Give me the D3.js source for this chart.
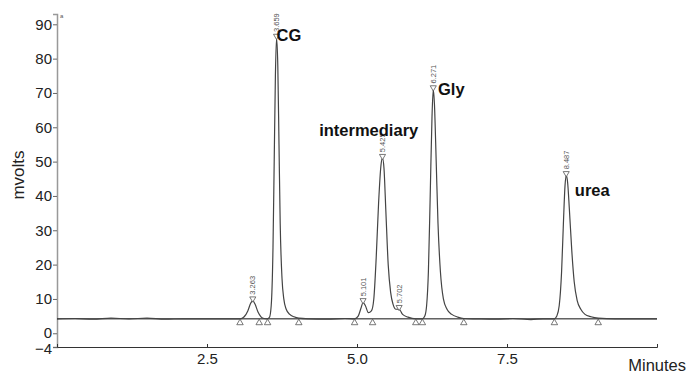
<!DOCTYPE html>
<html>
<head>
<meta charset="utf-8">
<script src="https://cdn.jsdelivr.net/npm/d3@7"></script>
<style>
  body { margin: 0; background: #fff; }
  svg { font-family: "Liberation Sans", Arial, sans-serif; }
</style>
</head>
<body>
<script>
'use-strict';

// chromatogram trace (minutes, mvolts)
let traceTime = [0, 0.3, 0.6, 0.9, 1.2, 1.5, 1.8, 2.1, 2.5, 2.9, 3.05, 3.12, 3.18, 3.23, 3.263, 3.3, 3.35, 3.4, 3.45,
  3.5, 3.54, 3.57, 3.6, 3.62, 3.64, 3.659, 3.68, 3.7, 3.72, 3.75, 3.78, 3.82, 3.88, 3.95, 4.03, 4.2, 4.5, 4.8,
  4.96, 5.02, 5.07, 5.101, 5.14, 5.19, 5.24, 5.28, 5.32, 5.36, 5.4, 5.425, 5.45, 5.48, 5.52, 5.56, 5.6, 5.65, 5.702, 5.76, 5.85, 5.98,
  6.09, 6.13, 6.16, 6.19, 6.22, 6.25, 6.271, 6.29, 6.32, 6.35, 6.39, 6.44, 6.5, 6.58, 6.68, 6.78,
  7.0, 7.3, 7.6, 7.9, 8.1, 8.29, 8.33, 8.37, 8.41, 8.44, 8.467, 8.487, 8.51, 8.54, 8.58, 8.62, 8.67, 8.73, 8.8, 8.9, 9.02, 9.3, 9.6, 10];
let traceMv = [4.2, 4.3, 4.1, 4.4, 4.2, 4.4, 4.1, 4.2, 4.2, 4.2, 4.2, 4.8, 6.5, 8.8, 9.5, 8.5, 6.2, 4.8, 4.3,
  4.2, 4.6, 8, 25, 50, 75, 86, 78, 55, 32, 16, 10, 7, 5.5, 4.8, 4.4, 4.2, 4.1, 4.3,
  4.2, 5.0, 7.5, 9, 8, 6, 6.5, 10, 22, 38, 49, 51, 48, 36, 20, 12, 8.5, 7, 7, 5.5, 4.7, 4.2,
  4.2, 5, 8, 18, 40, 63, 71, 67, 50, 32, 18, 10, 7, 5.5, 4.7, 4.3,
  4.2, 4.1, 4.3, 4.0, 4.2, 4.2, 5, 8, 18, 32, 43, 46, 44, 36, 24, 15, 9.5, 7, 5.5, 4.8, 4.4, 4.2, 4.2, 4.2];

// labelled peaks
let peakTimes = [3.263, 3.659, 5.101, 5.425, 5.702, 6.271, 8.487];
let peakLabels = ["3.263", "3.659", "5.101", "5.425", "5.702", "6.271", "8.487"];
let peakHeights = [9.5, 86, 9, 51, 7, 71, 46];

// integration marks on the baseline
let baseMarks = [3.05, 3.37, 3.51, 4.03, 4.96, 5.26, 5.98, 6.09, 6.78, 8.29, 9.02];
let baselineMv = 4.2;

// compound names
let compoundNames = ["CG", "intermediary", "Gly", "urea"];
let compoundTimes = [3.66, 4.37, 6.35, 8.63];
let compoundMv = [85, 57.5, 69.5, 40];

let yTicks = [-4, 0, 10, 20, 30, 40, 50, 60, 70, 80, 90];
let xTicks = [2.5, 5.0, 7.5];

let width = 686, height = 373;
let margin = { top: 14, left: 57, bottom: 26, right: 29 };

let svg = d3.select("body").append("svg")
  .attr("width", width)
  .attr("height", height);

let xScale = d3.scaleLinear().domain([0, 10]).range([margin.left, width - margin.right]);
let yScale = d3.scaleLinear().domain([-4, 93]).range([height - margin.bottom, margin.top]);

// y axis
let yAxis = d3.axisLeft(yScale).tickValues(yTicks).tickSize(4).tickFormat(d3.format("d"));
let gy = svg.append("g")
  .attr("transform", "translate(" + margin.left + ",0)")
  .call(yAxis);
gy.select(".domain").attr("stroke", "#999").attr("stroke-width", 1.5);
gy.selectAll(".tick line").attr("stroke", "#666");
gy.selectAll(".tick text")
  .attr("font-size", 15)
  .attr("fill", "#222")
  .attr("x", -5)
  .attr("dy", (d) => d == -4 ? "0.45em" : (d == 0 ? "0.25em" : "0.32em"));

// x axis
let xAxis = d3.axisBottom(xScale).tickValues(xTicks).tickSize(-3).tickFormat(d3.format(".1f"));
let gx = svg.append("g")
  .attr("transform", "translate(0," + yScale(-4) + ")")
  .call(xAxis);
gx.select(".domain").attr("stroke", "#333");
gx.selectAll(".tick line").attr("stroke", "#333");
gx.selectAll(".tick text").attr("font-size", 15).attr("fill", "#222").attr("y", 6);

// small marker at the top of the y axis
svg.append("text")
  .attr("x", margin.left + 3)
  .attr("y", margin.top + 4)
  .attr("font-size", 6)
  .attr("fill", "#555")
  .text("a");

// axis labels
svg.append("text")
  .attr("transform", "translate(24," + 175 + ") rotate(-90)")
  .attr("text-anchor", "middle")
  .attr("font-size", 17)
  .attr("fill", "#222")
  .text("mvolts");

svg.append("text")
  .attr("x", 686)
  .attr("y", 371)
  .attr("text-anchor", "end")
  .attr("font-size", 16.5)
  .attr("fill", "#222")
  .text("Minutes");

// integration baseline
svg.append("line")
  .attr("x1", xScale(0)).attr("x2", xScale(10))
  .attr("y1", yScale(baselineMv)).attr("y2", yScale(baselineMv))
  .attr("stroke", "#111")
  .attr("stroke-width", 1);

// trace
let line = d3.line()
  .x((d, i) => xScale(traceTime[i]))
  .y((d, i) => yScale(traceMv[i]))
  .curve(d3.curveMonotoneX);

svg.append("path")
  .datum(traceMv)
  .attr("d", line)
  .attr("fill", "none")
  .attr("stroke", "#444")
  .attr("stroke-width", 1.2);

// triangle marks below the baseline
svg.selectAll(".base-mark")
  .data(baseMarks)
  .enter()
  .append("path")
  .attr("class", "base-mark")
  .attr("d", d3.symbol().type(d3.symbolTriangle).size(18))
  .attr("transform", (d) => "translate(" + xScale(d) + "," + (yScale(baselineMv) + 4) + ")")
  .attr("fill", "#fff")
  .attr("stroke", "#555")
  .attr("stroke-width", 0.8);

// peak top marks
svg.selectAll(".peak-mark")
  .data(peakTimes)
  .enter()
  .append("path")
  .attr("class", "peak-mark")
  .attr("d", d3.symbol().type(d3.symbolTriangle).size(16))
  .attr("transform", (d, i) => "translate(" + xScale(d) + "," + (yScale(peakHeights[i]) - 2) + ") rotate(180)")
  .attr("fill", "#fff")
  .attr("stroke", "#555")
  .attr("stroke-width", 0.8);

// retention time labels
svg.selectAll(".peak-label")
  .data(peakLabels)
  .enter()
  .append("text")
  .attr("class", "peak-label")
  .attr("transform", (d, i) => "translate(" + (xScale(peakTimes[i]) + 2.7) + "," + (yScale(peakHeights[i]) - 6) + ") rotate(-90)")
  .attr("font-size", 7.5)
  .attr("fill", "#555")
  .text((d) => d);

// compound names
svg.selectAll(".compound")
  .data(compoundNames)
  .enter()
  .append("text")
  .attr("class", "compound")
  .attr("x", (d, i) => xScale(compoundTimes[i]))
  .attr("y", (d, i) => yScale(compoundMv[i]))
  .attr("font-size", 16.5)
  .attr("font-weight", "bold")
  .attr("fill", "#111")
  .text((d) => d);
</script>
</body>
</html>
